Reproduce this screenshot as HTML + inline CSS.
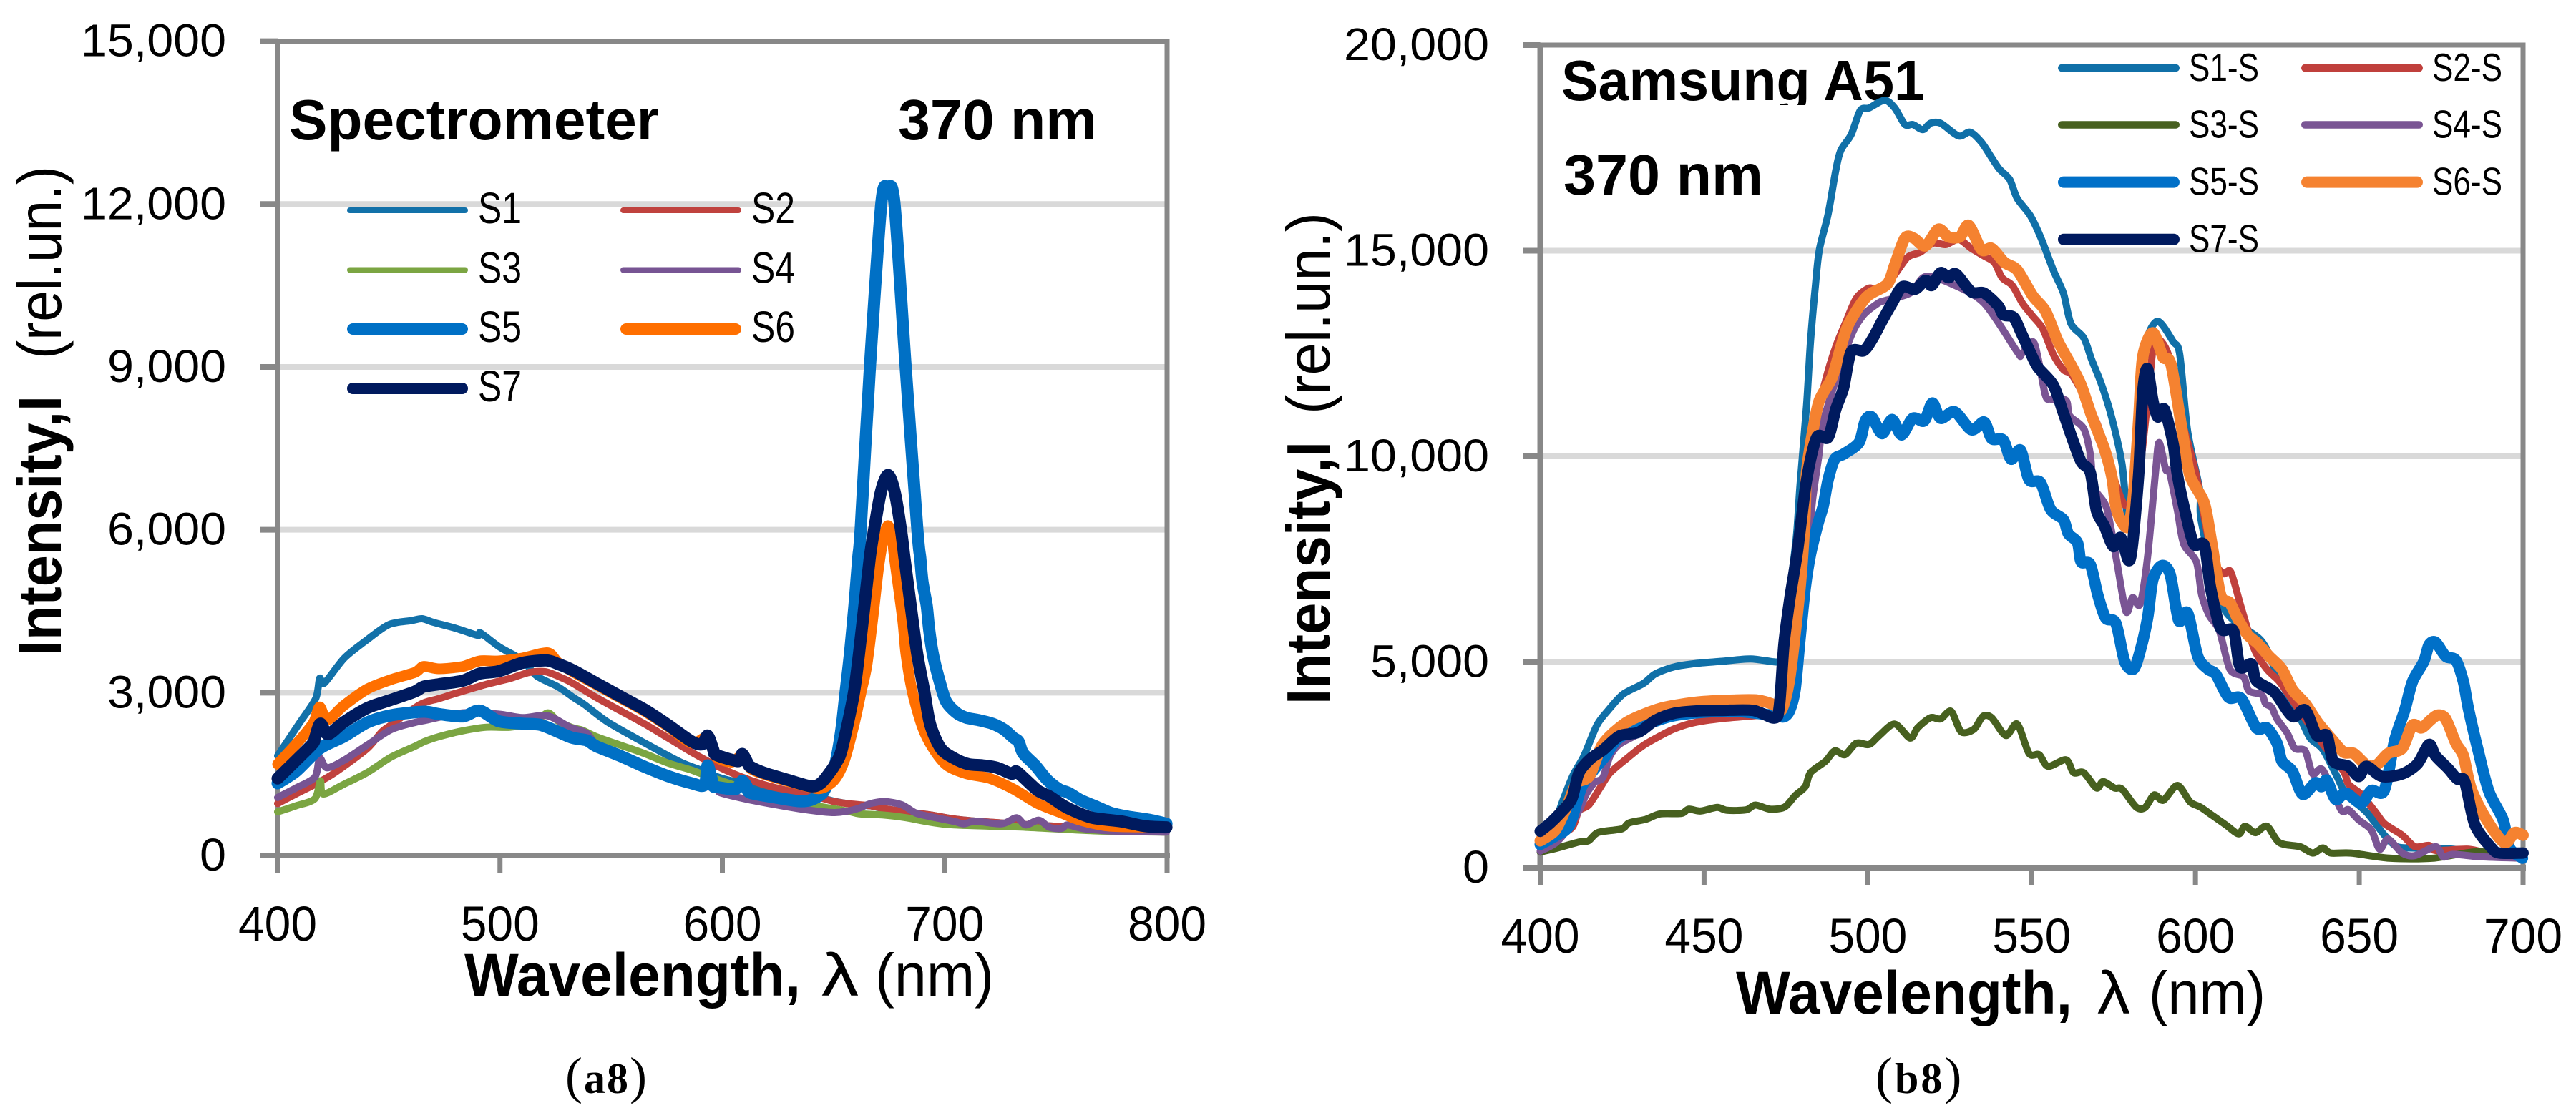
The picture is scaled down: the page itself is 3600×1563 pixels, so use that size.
<!DOCTYPE html>
<html lang="en">
<head>
<meta charset="utf-8">
<title>Spectrometer and Samsung A51 intensity spectra</title>
<style>
html,body{margin:0;padding:0;background:#fff;}
svg{display:block;font-family:"Liberation Sans",sans-serif;fill:#000;}
.b{font-weight:bold;}
.serif{font-family:"Liberation Serif",serif;}
</style>
</head>
<body>
<svg id="figure" xmlns="http://www.w3.org/2000/svg" width="3600" height="1563" viewBox="0 0 3600 1563">
  <rect x="0" y="0" width="3600" height="1563" fill="#fff"/>

  <g id="chartA"></g>
  <g id="chartB"></g>
</svg>

<script>
// ---------- chart (a8): wavelength (nm), intensity (rel.un.) readings ----------
const aXTicks = [400, 500, 600, 700, 800];
const aYTicks = [0, 3000, 6000, 9000, 12000, 15000];

const aS1 = [[400,1836],[410,2451],[417.1,2890],[418.9,3264],[421,3176],[430,3637],[440,3966],[450,4252],[460,4326],[465,4361],[470,4296],[480,4186],[490,4054],[491.3,4098],[500,3834],[510,3600],[516.5,3307],[526,3110],[533,2912],[538,2780],[548.7,2451],[564.8,2078],[580.9,1726],[590.5,1573],[602,1397],[629,1199],[640,1112],[650,1002],[656,958],[661,930],[666.7,914],[673,861],[682.8,804],[693.5,747],[704,672],[715,628],[736,571],[758,519],[798.6,431]];
const aS2 = [[400,958],[408.2,1133],[416.7,1309],[424.2,1485],[429.6,1638],[440.3,1968],[446.8,2275],[451.1,2407],[464,2780],[472.5,2890],[481.1,3000],[494,3154],[504.7,3264],[513.3,3373],[520.8,3382],[528.3,3264],[532.6,3176],[543.3,2912],[554,2670],[564.8,2429],[575.5,2166],[586.2,1902],[597,1660],[607.7,1463],[618.4,1309],[629.1,1199],[639.9,1112],[649.5,1002],[656,958],[666.7,914],[673.1,861],[682.8,804],[693.5,747],[704.2,672],[715,628],[736.4,571],[757.8,519],[798.6,431]];
const aS3 = [[400,804],[408.2,914],[416.7,1045],[419.2,1375],[420.5,1133],[429.6,1309],[440.3,1529],[451.1,1814],[461.8,2012],[466.1,2100],[472.5,2188],[483.3,2297],[494,2363],[504.7,2363],[515.5,2451],[521.4,2627],[526.2,2473],[532.6,2354],[536.9,2310],[543.3,2188],[554,2034],[564.8,1880],[575.5,1704],[586.2,1573],[590.5,1507],[607.7,1265],[629.1,1002],[642,914],[656,820],[661.3,770],[672,747],[682.8,694],[691.3,628],[704.2,562],[736.4,519],[768.6,453],[798.6,431]];
const aS4 = [[400,1068],[408.2,1243],[416.7,1441],[418.9,1792],[422.1,1617],[429.6,1748],[440.3,2034],[451.1,2319],[461.8,2451],[467.2,2495],[483.3,2627],[499.4,2605],[510.1,2539],[521.4,2574],[531.5,2363],[539,2253],[543.3,2050],[554,1840],[564.8,1640],[575.5,1465],[586.2,1335],[597,1230],[599.1,1155],[609.8,1046],[623.8,936],[634.5,861],[645.2,804],[650.6,791],[656,815],[661.3,870],[666.7,958],[673.1,993],[680.6,936],[687,782],[693.5,716],[704.2,628],[708.5,584],[713.9,628],[725.7,584],[732.3,694],[736.4,562],[742.3,650],[747.1,519],[752.5,497],[755.2,562],[762.1,497],[774,453],[799.7,431]];
const aS5 = [[400,1331],[408.2,1550],[418.9,1968],[429.6,2187],[440.3,2451],[451.1,2583],[465.6,2649],[472.5,2605],[483.3,2561],[490.8,2670],[499.4,2473],[510.1,2429],[518.1,2407],[526.2,2275],[532.6,2166],[539,2122],[543.3,2012],[554,1836],[564.8,1638],[575.5,1463],[586.2,1331],[592,1300],[593.4,1660],[595.9,1300],[597,1265],[605.5,1221],[607.7,1300],[609,1375],[610.9,1280],[612.5,1155],[623.8,1068],[634.5,1002],[639.9,1024],[645.2,1155],[647.9,1397],[650.6,1660],[652.2,1968],[653.8,2407],[655.4,3008],[657.4,3725],[659.4,4603],[661.1,5481],[662.2,6009],[666.4,9013],[671.5,12017],[674.4,12294],[677.4,12017],[682.4,9013],[687.7,6009],[689,5481],[690,5042],[691.9,4603],[693,4164],[694.6,3725],[697.2,3285],[700.5,2846],[705.3,2627],[709.6,2539],[715,2495],[721.4,2429],[726.7,2319],[731,2165],[733.2,2100],[735.3,1880],[740.7,1660],[746,1397],[751.4,1221],[755.7,1155],[761,1024],[768.6,892],[775,782],[782.5,716],[793,650],[799.7,585]];
const aS6 = [[400,1682],[410.3,2143],[416.2,2451],[418.9,2737],[422.3,2495],[429.6,2758],[440.3,3066],[451.1,3242],[461.8,3373],[465.6,3483],[472.5,3439],[483.3,3483],[490.8,3584],[499.4,3584],[510.1,3637],[521.4,3734],[526,3560],[532.6,3387],[543.3,3146],[554,2904],[564.8,2663],[575.5,2377],[586.2,2070],[593.4,2180],[596.9,1830],[604,1720],[608.9,1840],[612.5,1610],[618.4,1500],[629.1,1370],[639.9,1250],[645,1240],[650.6,1400],[654.9,1750],[659.2,2407],[662.4,3008],[665,3505],[667.7,4384],[670.4,5350],[672.8,5900],[674.5,6075],[676.3,5900],[677.4,5481],[681.1,4340],[682.5,3725],[685.4,3022],[690,2363],[694.5,1990],[701,1660],[709.6,1507],[720.3,1419],[731,1221],[741.8,958],[752.5,782],[761,650],[774,540],[799.7,519]];
const aS7 = [[400,1419],[408.2,1748],[415.7,2056],[416.7,2150],[419.2,2429],[422.6,2232],[429.6,2451],[440.3,2715],[451.1,2868],[461.8,3022],[465.6,3110],[472.5,3154],[483.3,3220],[490.8,3351],[499.4,3395],[510.1,3549],[520.8,3593],[526,3530],[532.6,3417],[543.3,3176],[554,2934],[564.8,2693],[575.5,2407],[586.2,2100],[591,2050],[593.4,2210],[595.9,1950],[597,1858],[605.5,1748],[607.7,1750],[609,1871],[611.4,1700],[612.5,1638],[618.4,1529],[629.1,1397],[639.9,1274],[644.2,1331],[647.9,1507],[651.1,1704],[653.8,1968],[659.2,3008],[662.7,4164],[666.3,5481],[668.3,6009],[671.3,6700],[674.5,7010],[677.5,6700],[680.3,6009],[681.9,5481],[684.7,4603],[687.6,3725],[690.8,3022],[693.5,2407],[698.3,1968],[704.2,1792],[710.6,1682],[717.1,1660],[723.5,1617],[730,1507],[732.1,1551],[735.3,1441],[741.8,1199],[747.1,1090],[753.5,914],[757.8,826],[766.4,694],[779.3,628],[790,540],[799.7,519]];

// ---------- chart (b8): wavelength (nm), intensity (rel.un.) readings ----------
const bXTicks = [400, 450, 500, 550, 600, 650, 700];
const bYTicks = [0, 5000, 10000, 15000, 20000];

const bS1 = [[400,620],[404.6,1145],[406.8,1609],[410,2246],[413.3,2710],[417.3,3464],[420.6,3812],[425.3,4217],[431.5,4478],[435.1,4710],[441,4884],[448.2,4971],[455.5,5017],[464.2,5075],[472.2,5000],[474,5100],[476,6600],[478.2,8056],[479.3,9311],[481.3,11236],[482.5,12789],[484,14155],[485.2,15025],[487.9,15895],[490.2,16950],[491.8,17447],[494.9,17820],[497.7,18410],[500.4,18472],[505.1,18658],[508.2,18472],[511.3,18068],[513.7,18068],[516.8,17944],[519.1,18099],[522.2,18099],[527.7,17789],[531.2,17882],[534.7,17634],[537.8,17261],[540.2,16981],[543.3,16733],[545.6,16267],[549.5,15863],[552.7,15336],[556.6,14528],[559.7,13969],[562,13224],[565.9,12882],[568.3,12354],[571.4,11733],[574.5,10926],[577.6,9808],[579.2,8600],[581,9500],[583,11500],[585,12800],[588.5,13286],[593.2,12789],[595.2,12478],[597.6,10617],[601.3,9193],[601.9,8367],[608.5,6317],[620.2,5510],[624.9,4700],[631.9,3646],[635,3150],[638.9,2870],[643.2,2218],[646,1783],[652.2,1348],[657.7,790],[661.5,510],[666.2,479],[675.6,467],[685.7,386],[699.8,230]];
const bS2 = [[400,480],[404.6,739],[409.7,971],[411.8,1377],[414.8,1522],[418.4,1957],[421.3,2305],[426.4,2652],[431.5,2971],[436.6,3203],[441,3377],[446.8,3522],[455.5,3626],[470,3725],[473.5,3800],[476.5,6000],[479,7800],[481.5,9500],[484,10800],[487.1,11857],[490.2,12665],[493.4,13286],[496.5,13845],[500.4,14093],[503.5,14031],[508,14400],[512.1,14839],[516,14963],[519.9,15180],[523.8,15149],[527.7,15273],[531.6,15056],[535.5,14870],[538.6,14714],[541,14342],[544.1,14155],[547.2,13721],[550.3,13410],[553.4,13100],[556.6,12479],[559.7,12106],[562.8,11920],[570,10800],[575,9500],[579,8800],[583,9690],[587,12600],[588,12900],[591.7,12480],[595.2,11078],[600.2,9560],[605,7600],[608.5,7156],[610.8,7187],[614,6317],[617.9,5323],[621.8,4826],[625.7,4516],[630.3,3988],[638.1,3087],[645.2,2342],[646.7,2032],[650.6,1783],[655.3,1317],[657.7,1069],[663.1,790],[667,510],[671.3,541],[673.3,417],[683.4,448],[690.4,324],[699.8,230]];
const bS3 = [[400,380],[405.3,478],[411.8,623],[414.7,652],[417.7,855],[424.9,942],[427.1,1087],[432.2,1174],[436.6,1307],[443.1,1319],[445.3,1423],[449,1377],[454,1464],[457,1394],[462.8,1406],[465.7,1522],[470.1,1423],[474.6,1473],[477.8,1752],[480.9,1970],[482.5,2311],[487.1,2590],[489.9,2839],[493,2746],[496.5,3025],[500.4,2994],[503.5,3212],[508.2,3491],[512.9,3150],[515.2,3398],[519.1,3646],[522.2,3615],[525.4,3802],[528.5,3305],[532.4,3367],[535.1,3678],[537.8,3646],[542.1,3212],[545.6,3491],[549.2,2777],[552.3,2746],[555,2466],[560.5,2622],[562.8,2311],[565.9,2311],[569.8,1938],[571.8,2094],[575.3,1938],[577.6,1908],[581.9,1473],[584.6,1460],[587.4,1768],[590.2,1640],[594.5,2000],[598.4,1597],[601.5,1473],[605.4,1255],[609.3,1038],[613.2,820],[615.1,1007],[618.3,851],[621.8,1007],[625.7,603],[631.9,510],[635.8,355],[638.9,479],[641.3,355],[647.5,355],[659.2,230],[672.5,230],[686.5,386],[699.8,230]];
const bS4 = [[400,400],[404.6,594],[408.2,913],[411.8,1377],[414,1783],[416.6,2073],[419.1,2188],[421.3,2710],[424.2,3000],[430,3250],[440,3700],[460,3800],[471,3750],[475,5000],[478,6500],[481.7,7870],[483.2,8988],[485,10000],[486.7,10926],[494.2,12789],[498.4,13410],[503.1,13721],[505,13783],[512.9,13969],[517.6,14373],[525.7,14187],[535.5,13721],[545.6,12541],[546.8,12479],[550.3,12789],[551.9,12416],[554.2,11485],[555.8,11391],[560.5,11361],[561.6,10988],[565.9,10677],[567.9,10056],[569,9249],[572.9,8739],[576,7435],[578.8,6224],[580.8,6566],[583.1,6410],[585.4,7559],[587.8,9609],[588.9,10336],[590.9,9684],[592.1,9609],[594.5,8677],[596.4,7870],[600.3,7435],[601.9,6628],[604.2,6131],[607.3,5758],[610.5,4826],[614.7,4640],[616.3,4299],[620.2,4205],[621.4,3988],[623.3,3895],[624.9,3615],[628,3274],[630.3,2901],[633.5,2839],[635.8,2280],[638.9,2373],[644.4,1410],[646.7,1410],[649.8,1162],[653.7,913],[656.2,448],[658.8,696],[663.1,355],[667,293],[673.3,510],[675.6,262],[678.7,324],[687.3,262],[699.8,230]];
const bS5 = [[400,565],[404.6,768],[408.9,1029],[412.6,1957],[416.2,2362],[419.8,2710],[423.5,3116],[430,3400],[440,3680],[450,3780],[460,3800],[471.5,3700],[474.4,3667],[476.2,3833],[477.8,4330],[479.3,5572],[480.9,6814],[482.5,7621],[484.8,8367],[486.4,8802],[487.9,9435],[489.9,9932],[492.6,10056],[497.3,10336],[499.2,10864],[501.2,10957],[504.3,10553],[507.4,10895],[510.3,10522],[513.7,10926],[517.2,10864],[519.7,11298],[522.2,10926],[526.5,11081],[531.6,10646],[535.5,10833],[537.8,10429],[541.3,10398],[543.7,9932],[546.6,10149],[549.2,9435],[552.7,9361],[555.8,8708],[559.7,8460],[561.2,8118],[564,7901],[565.1,7435],[567.9,7373],[570.2,6628],[572.6,6069],[575.7,5945],[578.4,5013],[581.1,4827],[583.1,5261],[585.4,6069],[587,7000],[589.7,7342],[592.3,7125],[594.9,6007],[597.6,6193],[600.7,5137],[603.8,4826],[606.2,4702],[610.1,4143],[614,4112],[618.6,3398],[621.8,3398],[624.9,3025],[626.4,2591],[629.6,2342],[632.7,1783],[636.6,2063],[638.5,1970],[640.1,2125],[642.8,1659],[645.9,1814],[650.6,1566],[653.7,1876],[657.6,1876],[660.8,3087],[663.9,3833],[666.2,4516],[669.7,5013],[671.3,5417],[673.3,5479],[676.4,5137],[679.5,5044],[681.8,4516],[683.4,3833],[686.5,2777],[689.6,1845],[693.9,1162],[695.9,479],[699.8,230]];
const bS6 = [[400,652],[404.6,913],[408.2,1500],[411.1,2050],[415,2230],[419.1,3000],[425.6,3493],[431.5,3725],[438,3899],[448.2,4026],[459,4072],[466.4,4072],[471.5,3957],[473.7,3840],[476.2,4640],[479.3,6814],[480.7,8367],[481.3,9609],[483.2,10615],[485.2,11360],[489.1,11920],[491.8,12665],[494.2,13224],[499.6,13876],[505.9,14186],[508.2,14652],[511.3,15304],[514,15304],[517.6,15118],[521.5,15522],[524.6,15336],[528.1,15336],[530.8,15615],[534.7,15025],[537.8,15056],[541.7,14714],[545.6,14528],[550.3,13907],[554.2,13534],[558.1,12789],[562.4,12168],[565.1,11733],[568.3,10988],[572.2,10181],[574.5,9497],[576,8677],[579.2,8274],[581,9000],[582.7,10926],[583.9,12416],[587,13006],[590.1,12416],[592.6,12217],[596.3,10441],[598.4,9516],[602.7,8864],[605,7870],[607.7,6628],[610.5,6441],[612.8,6069],[615.9,5665],[619,5448],[622.5,5137],[626.4,4826],[629.6,4330],[633.5,3988],[637.4,3522],[641.3,3150],[645.2,2808],[648.3,2777],[652.2,2498],[655.3,2498],[658.8,2777],[663.1,2901],[666.2,3460],[669,3398],[671.7,3584],[674,3709],[676.4,3615],[679.5,3025],[681.8,2715],[684.2,1908],[688.9,1162],[694.3,603],[697.4,851],[700,790]];
const bS7 = [[400,884],[403.1,1087],[406,1319],[409.6,1667],[411.8,2304],[415.4,2652],[419.1,2855],[424.2,3203],[430,3290],[435.1,3580],[441,3754],[448.2,3812],[455.5,3823],[465,3823],[471.5,3638],[473,3928],[474.4,5435],[476.3,6594],[478.6,7746],[481.3,9423],[484.4,10460],[487.9,10460],[490.2,11143],[492.6,11671],[494.9,12541],[498.8,12571],[501.6,12882],[504.3,13286],[507.4,13721],[510.5,14124],[514.4,14062],[517.6,14280],[519.5,14155],[522.2,14466],[524.6,14342],[526.9,14435],[531.6,14000],[535.5,13969],[539.8,13659],[541.3,13441],[544.5,13379],[546.8,13006],[549.5,12541],[551.9,12168],[556.6,11733],[559.7,11050],[562.4,10429],[565.1,9870],[567.9,9609],[569.8,8677],[572.2,8305],[574.9,7808],[577.2,8025],[579.6,7466],[580.8,7870],[582.7,9609],[583.9,11546],[585.3,12137],[587,11360],[588.5,10957],[590.5,11143],[593.2,10305],[594.5,9547],[596.8,8677],[599.5,7870],[602.7,7839],[604.6,6814],[607.7,5820],[611.6,5758],[613.6,4888],[617.1,4951],[618.6,4547],[624.1,4268],[629.6,3678],[633.5,3833],[637,3212],[640.1,3212],[642.1,2591],[646.7,2466],[649.8,2218],[652.2,2466],[656.9,2218],[663.1,2280],[667.8,2528],[671.3,2994],[673.3,2715],[677.2,2404],[679.9,2156],[682.2,2094],[685.3,1038],[690.4,479],[692.8,355],[700,355]];

// ---------- drawing ----------
const SVGNS = 'http://www.w3.org/2000/svg';

function digitsWidth(label) {
  let w = 0;
  for (const c of label) w += (c === ',' ? 18 : 37);
  return w;
}
function fmt(v) {
  return String(v).replace(/\B(?=(\d{3})+$)/g, ',');
}
function mk(parent, tag, attrs, text) {
  const el = document.createElementNS(SVGNS, tag);
  for (const k in attrs) el.setAttribute(k, attrs[k]);
  if (text !== undefined) el.textContent = text;
  parent.appendChild(el);
  return el;
}
function label(parent, x, y, size, width, str, cls, anchor, rotate) {
  const a = { x: x, y: y, 'font-size': size, textLength: width, lengthAdjust: 'spacingAndGlyphs' };
  if (cls) a['class'] = cls;
  if (anchor) a['text-anchor'] = anchor;
  if (rotate) {
    a.x = 0;
    a.y = 0;
    a.transform = 'translate(' + x + ',' + y + ') rotate(-90)';
  }
  return mk(parent, 'text', a, str);
}
// Rounded curve through the scaled readings
function curvePath(pts) {
  const k = 1 / 7;
  let d = 'M' + pts[0][0].toFixed(1) + ' ' + pts[0][1].toFixed(1);
  for (let i = 0; i < pts.length - 1; i++) {
    const p0 = pts[Math.max(i - 1, 0)];
    const p1 = pts[i];
    const p2 = pts[i + 1];
    const p3 = pts[Math.min(i + 2, pts.length - 1)];
    const c1x = p1[0] + (p2[0] - p0[0]) * k;
    const c1y = p1[1] + (p2[1] - p0[1]) * k;
    const c2x = p2[0] - (p3[0] - p1[0]) * k;
    const c2y = p2[1] - (p3[1] - p1[1]) * k;
    d += 'C' + c1x.toFixed(1) + ' ' + c1y.toFixed(1) + ' ' + c2x.toFixed(1) + ' ' + c2y.toFixed(1) + ' ' + p2[0].toFixed(1) + ' ' + p2[1].toFixed(1);
  }
  return d;
}

function drawChart(root, cfg) {
  const sx = v => cfg.x0 + (v - cfg.xMin) / (cfg.xMax - cfg.xMin) * (cfg.x1 - cfg.x0);
  const sy = v => cfg.y0 - (v - cfg.yMin) / (cfg.yMax - cfg.yMin) * (cfg.y0 - cfg.y1);
  const AX = '#888888';

  // gridlines
  cfg.yTicks.forEach(t => {
    if (t === cfg.yMin || t === cfg.yMax) return;
    const g = mk(root, 'line', { x1: cfg.x0, x2: cfg.x1, y1: sy(t), y2: sy(t), stroke: '#d9d9d9', 'stroke-width': 8 });
    
    
  });

  // frame
  const frame = mk(root, 'rect', { x: cfg.x0, y: sy(cfg.yMax), width: cfg.x1 - cfg.x0, height: cfg.y0 - sy(cfg.yMax), fill: 'none', stroke: AX, 'stroke-width': 7 });
  
  
  const xAxis = mk(root, 'line', { x1: cfg.x0 - 4, x2: cfg.x1 + 4, y1: cfg.y0, y2: cfg.y0, stroke: AX, 'stroke-width': 8 });
  
  
  const yAxis = mk(root, 'line', { x1: cfg.x0, x2: cfg.x0, y1: sy(cfg.yMax), y2: cfg.y0, stroke: AX, 'stroke-width': 8 });
  
  

  // ticks and tick labels
  cfg.yTicks.forEach(t => {
    const m = mk(root, 'line', { x1: cfg.x0 - 24, x2: cfg.x0, y1: sy(t), y2: sy(t), stroke: AX, 'stroke-width': 8 });
    
    
    const s = fmt(t);
    const l = label(root, cfg.yLabelRight, sy(t) + 21, 64, digitsWidth(s), s, '', 'end');
    
    
  });
  cfg.xTicks.forEach(t => {
    const m = mk(root, 'line', { x1: sx(t), x2: sx(t), y1: cfg.y0, y2: cfg.y0 + 24, stroke: AX, 'stroke-width': 7 });
    
    
    const l = label(root, sx(t), cfg.xLabelBase, 69, 110, String(t), '', 'middle');
    
    
  });

  // annotations under the curves
  cfg.notes.forEach(n => {
    const t = label(root, n.x, n.y, 80, n.w, n.text, 'b');
    
    
  });
  if (cfg.mask) {
    const r = mk(root, 'rect', { x: cfg.mask.x, y: cfg.mask.y, width: cfg.mask.w, height: cfg.mask.h, fill: '#fff' });
    
    
  }

  // series
  cfg.series.forEach(s => {
    const scaled = s.data.map(p => [sx(p[0]), sy(p[1])]);
    const line = mk(root, 'path', { d: curvePath(scaled), fill: 'none', stroke: s.color, 'stroke-width': s.width, 'stroke-linejoin': 'round', 'stroke-linecap': 'round' });
    
    
  });

  // legend
  const lg = mk(root, 'g', {});
  
  
  cfg.series.forEach((s, i) => {
    const col = i % 2;
    const row = Math.floor(i / 2);
    const e = mk(lg, 'g', {});
    
    
    const ly = cfg.legend.rows[row];
    const lx = cfg.legend.cols[col];
    const lw = s.legendWidth;
    mk(e, 'line', { x1: lx + lw / 2, x2: lx + cfg.legend.len - lw / 2, y1: ly, y2: ly, stroke: s.color, 'stroke-width': lw, 'stroke-linecap': 'round' });
    label(e, lx + cfg.legend.textGap, ly + cfg.legend.base, cfg.legend.size, cfg.legend.textW, s.name);
  });

  // axis titles
  cfg.titles.forEach(t => {
    const el = label(root, t.x, t.y, t.size, t.w, t.text, t.cls, null, t.rot);
    
    
  });

  // panel caption
  const cap = mk(root, 'text', { x: cfg.caption.x, y: 1528, 'font-size': 72, 'class': 'serif', 'letter-spacing': cfg.caption.ls });
  
  
  mk(cap, 'tspan', {}, '(');
  mk(cap, 'tspan', { 'font-weight': 'bold', 'font-size': 60 }, cfg.caption.text);
  mk(cap, 'tspan', {}, ')');
}

drawChart(document.getElementById('chartA'), {
  x0: 388, x1: 1631, y0: 1196, y1: 57.6,
  xMin: 400, xMax: 800, yMin: 0, yMax: 15000,
  xTicks: aXTicks, yTicks: aYTicks,
  yLabelRight: 316, xLabelBase: 1315,
  notes: [
    { text: 'Spectrometer', x: 404, y: 195, w: 517, name: 'detector-annotation' },
    { text: '370 nm', x: 1255, y: 195, w: 278, name: 'excitation-annotation' }
  ],
  series: [
    { name: 'S1', data: aS1, color: '#1271A9', width: 10, legendWidth: 8 },
    { name: 'S2', data: aS2, color: '#C0423E', width: 10, legendWidth: 8 },
    { name: 'S3', data: aS3, color: '#7BA542', width: 10, legendWidth: 8 },
    { name: 'S4', data: aS4, color: '#775493', width: 10, legendWidth: 8 },
    { name: 'S5', data: aS5, color: '#0070C5', width: 17, legendWidth: 16 },
    { name: 'S6', data: aS6, color: '#FF6F00', width: 15, legendWidth: 16 },
    { name: 'S7', data: aS7, color: '#001A5E', width: 17, legendWidth: 16 }
  ],
  legend: { rows: [294, 377.5, 460, 543], cols: [485, 867], len: 169, textGap: 183, base: 18, size: 61, textW: 61 },
  titles: [
    { text: 'Intensity,I', x: 85, y: 917, size: 85, w: 364, cls: 'b', rot: true, name: 'y-axis-title' },
    { text: '(rel.un.)', x: 85, y: 502, size: 85, w: 270, cls: '', rot: true, name: 'y-axis-unit' },
    { text: 'Wavelength,', x: 649, y: 1392, size: 84, w: 470, cls: 'b', name: 'x-axis-title' },
    { text: '\u03BB', x: 1148, y: 1392, size: 84, w: 52, cls: '', name: 'x-axis-lambda' },
    { text: '(nm)', x: 1223, y: 1392, size: 84, w: 166, cls: '', name: 'x-axis-unit' }
  ],
  caption: { x: 790, text: 'a8', ls: 2 }
});

drawChart(document.getElementById('chartB'), {
  x0: 2152.5, x1: 3526, y0: 1213, y1: 63,
  xMin: 400, xMax: 700, yMin: 0, yMax: 20000,
  xTicks: bXTicks, yTicks: bYTicks,
  yLabelRight: 2081, xLabelBase: 1332,
  notes: [
    { text: 'Samsung A51', x: 2182, y: 140, w: 508, name: 'device-annotation' },
    { text: '370 nm', x: 2185, y: 272, w: 279, name: 'excitation-annotation' }
  ],
  mask: { x: 2176, y: 147, w: 530, h: 24 },
  series: [
    { name: 'S1-S', data: bS1, color: '#1070A8', width: 10, legendWidth: 10.5 },
    { name: 'S2-S', data: bS2, color: '#C0403C', width: 10, legendWidth: 10.5 },
    { name: 'S3-S', data: bS3, color: '#47601F', width: 10, legendWidth: 10.5 },
    { name: 'S4-S', data: bS4, color: '#7A5594', width: 10, legendWidth: 10.5 },
    { name: 'S5-S', data: bS5, color: '#0070C8', width: 16, legendWidth: 16 },
    { name: 'S6-S', data: bS6, color: '#F58230', width: 16, legendWidth: 16 },
    { name: 'S7-S', data: bS7, color: '#001A5E', width: 16, legendWidth: 16 }
  ],
  legend: { rows: [95, 174.5, 254.6, 334.7], cols: [2876, 3216], len: 170, textGap: 183, base: 18, size: 55, textW: 98 },
  titles: [
    { text: 'Intensity,I', x: 1858, y: 985, size: 85, w: 368, cls: 'b', rot: true, name: 'y-axis-title' },
    { text: '(rel.un.)', x: 1858, y: 579, size: 85, w: 282, cls: '', rot: true, name: 'y-axis-unit' },
    { text: 'Wavelength,', x: 2426, y: 1417, size: 84, w: 470, cls: 'b', name: 'x-axis-title' },
    { text: '\u03BB', x: 2931, y: 1417, size: 84, w: 46, cls: '', name: 'x-axis-lambda' },
    { text: '(nm)', x: 3003, y: 1417, size: 84, w: 163, cls: '', name: 'x-axis-unit' }
  ],
  caption: { x: 2621, text: 'b8', ls: 3 }
});
</script>
</body>
</html>
